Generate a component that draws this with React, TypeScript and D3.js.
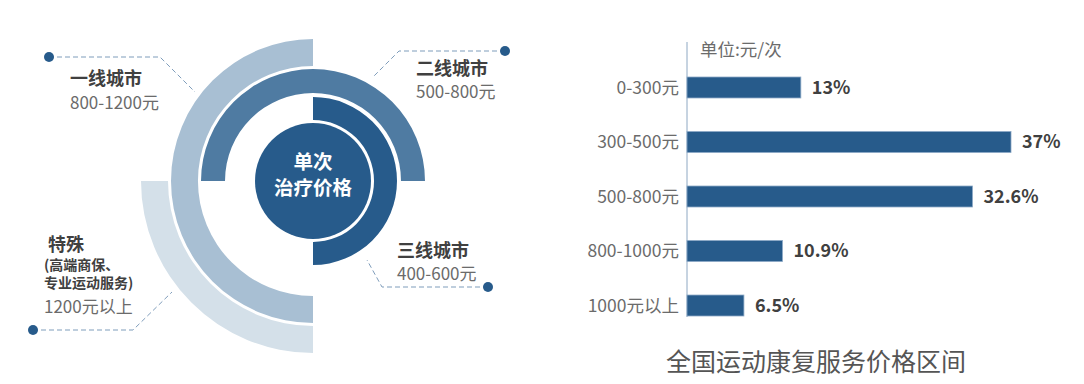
import React from 'react';
import * as d3 from 'd3';

// ring segments (inner to outer)
const ringNames = ['三线城市', '二线城市', '一线城市', '特殊'];
const ringPrices = ['400-600元', '500-800元', '800-1200元', '1200元以上'];
// arc span of each ring, in degrees clockwise from 12 o'clock
const ringStart = [0, -90, 180, 180];
const ringEnd = [180, 90, 360, 270];

// bar chart
const priceBands = ['0-300元', '300-500元', '500-800元', '800-1000元', '1000元以上'];
const priceShares = [13, 37, 32.6, 10.9, 6.5];
const shareLabels = ['13%', '37%', '32.6%', '10.9%', '6.5%'];

const centerTitle = ['单次', '治疗价格'];
const unitLabel = '单位:元/次';
const chartTitle = '全国运动康复服务价格区间';

const FONT = '"Noto Sans CJK SC", "Noto Sans", sans-serif';
const ringColors = ['#275b8b', '#4f7ba2', '#a8bfd3', '#d4e0e9'];
const ringRadii: [number, number][] = [
  [61, 84],
  [88, 112],
  [115, 142],
  [145, 172],
];

const App = () => {
  const width = 1084;
  const height = 384;
  const cx = 313;
  const cy = 181;

  const toRad = d3.scaleLinear().domain([0, 360]).range([0, 2 * Math.PI]);
  const arc = d3.arc<any>();

  // leader lines: dot, elbow, end at ring
  const leaders = [
    { dot: [488, 287], elbow: [382, 287], end: [367, 260] },
    { dot: [505, 51], elbow: [399, 51], end: [373, 77] },
    { dot: [49, 57], elbow: [160, 57], end: [195, 92] },
    { dot: [33, 330], elbow: [133, 330], end: [172, 292] },
  ];

  // bar chart scales
  const axisX = 687;
  const x = d3.scaleLinear().domain([0, 37]).range([axisX, 1011]);
  const y = d3.scaleBand<string>().domain(priceBands).range([77, 316]).paddingInner(0.615).paddingOuter(0);

  return (
    <svg width={width} height={height} style={{ position: 'absolute', left: 0, top: 0, background: '#fff' }} fontFamily={FONT}>
      {/* rings */}
      <g transform={`translate(${cx},${cy})`}>
        {ringNames.map((name, i) => (
          <path
            key={name}
            d={arc({
              innerRadius: ringRadii[i][0],
              outerRadius: ringRadii[i][1],
              startAngle: toRad(ringStart[i]),
              endAngle: toRad(ringEnd[i]),
            }) || ''}
            fill={ringColors[i]}
          />
        ))}
        <circle r={58} fill="#275b8b" />
        <text textAnchor="middle" y={-12} fill="#fff" fontSize={19.5} fontWeight="bold">{centerTitle[0]}</text>
        <text textAnchor="middle" y={14} fill="#fff" fontSize={19.5} fontWeight="bold">{centerTitle[1]}</text>
      </g>

      {/* leader lines */}
      {leaders.map((l, i) => (
        <g key={i}>
          <polyline
            points={`${l.dot[0]},${l.dot[1]} ${l.elbow[0]},${l.elbow[1]} ${l.end[0]},${l.end[1]}`}
            fill="none"
            stroke="#7f9dbb"
            strokeWidth={1}
            strokeDasharray="5,3"
          />
          <circle cx={l.dot[0]} cy={l.dot[1]} r={5} fill="#275b8b" />
        </g>
      ))}

      {/* ring labels */}
      <text x={397} y={257} fontSize={18} fontWeight="bold" fill="#404040">{ringNames[0]}</text>
      <text x={397} y={280} fontSize={17} fill="#6b6b6b">{ringPrices[0]}</text>
      <text x={416} y={75} fontSize={18} fontWeight="bold" fill="#404040">{ringNames[1]}</text>
      <text x={416} y={98} fontSize={17} fill="#6b6b6b">{ringPrices[1]}</text>
      <text x={70} y={85} fontSize={18} fontWeight="bold" fill="#404040">{ringNames[2]}</text>
      <text x={70} y={109} fontSize={17} fill="#6b6b6b">{ringPrices[2]}</text>
      <text x={48} y={251} fontSize={18} fontWeight="bold" fill="#404040">{ringNames[3]}</text>
      <text x={44} y={270} fontSize={14} fontWeight="bold" fill="#404040">(高端商保、</text>
      <text x={44} y={288} fontSize={14} fontWeight="bold" fill="#404040">专业运动服务)</text>
      <text x={44} y={313} fontSize={17} fill="#6b6b6b">{ringPrices[3]}</text>

      {/* bar chart */}
      <line x1={axisX} x2={axisX} y1={42} y2={317} stroke="#8ea8c3" strokeWidth={1} />
      <text x={700} y={56} fontSize={17.5} fill="#6b6b6b">{unitLabel}</text>
      {priceBands.map((band, i) => {
        const by = y(band) || 0;
        const bh = y.bandwidth();
        const bx = x(priceShares[i]);
        return (
          <g key={band}>
            <rect x={axisX} y={by} width={bx - axisX} height={bh} fill="#275b8b" stroke="#8ca9c6" strokeWidth={0.8} />
            <text x={679} y={by + bh / 2} dy="0.35em" textAnchor="end" fontSize={17.5} fill="#6b6b6b">{band}</text>
            <text x={bx + 11} y={by + bh / 2} dy="0.35em" fontSize={18} fontWeight="bold" fill="#404040">{shareLabels[i]}</text>
          </g>
        );
      })}
      <text x={816} y={371} textAnchor="middle" fontSize={25} fill="#555">{chartTitle}</text>
    </svg>
  );
};

export default App;
